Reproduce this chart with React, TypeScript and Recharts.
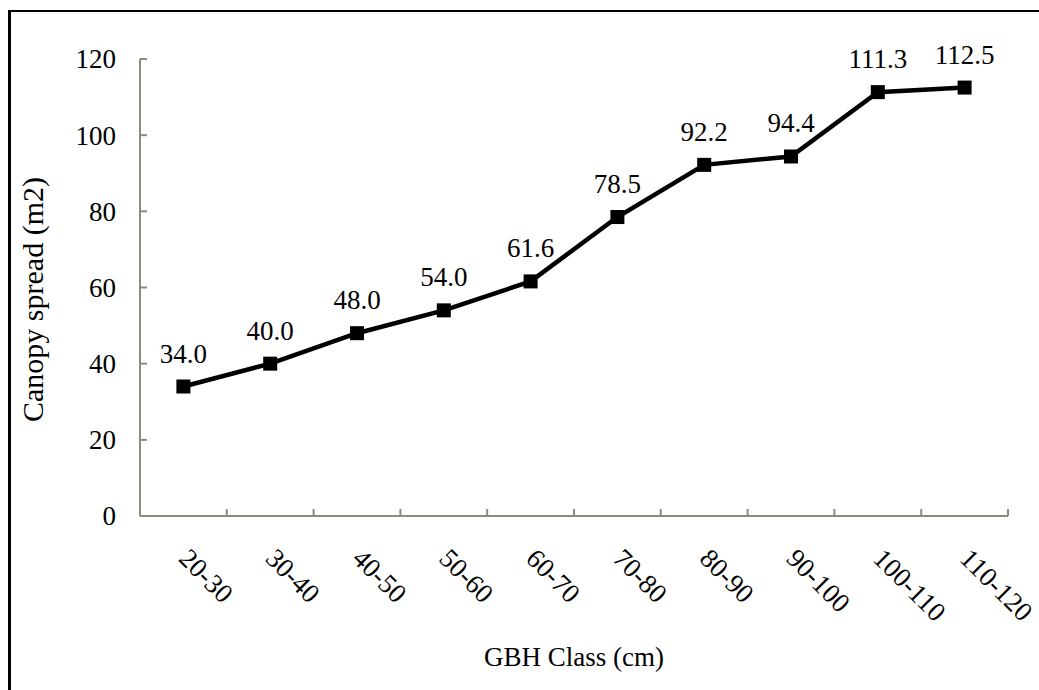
import { LineChart, Line, XAxis, YAxis, LabelList } from 'recharts';

const gbhClasses = ['20-30', '30-40', '40-50', '50-60', '60-70', '70-80', '80-90', '90-100', '100-110', '110-120'];
const canopySpread = [34.0, 40.0, 48.0, 54.0, 61.6, 78.5, 92.2, 94.4, 111.3, 112.5];
const yTicks = [0, 20, 40, 60, 80, 100, 120];
const boundaryTicks = [0, 1, 2, 3, 4, 5, 6, 7, 8, 9, 10];

const FONT = "'Liberation Serif', 'Times New Roman', Times, serif";
const AXIS = '#878f7b';
const txt = { fontFamily: FONT, fontSize: 27 };

// each class sits in the middle of its band on a 0..10 number axis
const data = gbhClasses.map((g, i) => ({ gbh: g, pos: i + 0.5, spread: canopySpread[i] }));
const xTicks = [...boundaryTicks, ...data.map(d => d.pos)].sort((a, b) => a - b);

// boundary values get a short inward tick mark, band centres get the rotated class label
const XTick = (props: any) => {
    const { x, y, payload } = props;
    const v = payload.value;
    if (Number.isInteger(v)) {
        return <line x1={x} x2={x} y1={y} y2={y - 7} stroke={AXIS} strokeWidth={2} />;
    }
    const ax = x - 6;
    const ay = y + 44;
    return (
        <text x={ax} y={ay} transform={`rotate(45, ${ax}, ${ay})`} textAnchor="start" style={txt} fill="#000">
            {gbhClasses[Math.floor(v)]}
        </text>
    );
};

const YTick = (props: any) => {
    const { x, y, payload } = props;
    return (
        <text x={x} y={y} dy="0.35em" textAnchor="end" style={txt} fill="#000">
            {payload.value}
        </text>
    );
};

const PointLabel = (props: any) => {
    const { x, y, value } = props;
    return (
        <text x={x} y={y - 24} textAnchor="middle" style={txt} fill="#000">
            {Number(value).toFixed(1)}
        </text>
    );
};

const SquareDot = (props: any) => {
    const { cx, cy, index } = props;
    return <rect key={index} x={cx - 7} y={cy - 7} width={14} height={14} fill="#000" />;
};

export default function App() {
    return (
        <div style={{ position: 'absolute', left: 0, top: 0, width: 1039, height: 690, background: '#fff', fontFamily: FONT }}>
            <div style={{ position: 'absolute', left: 8, top: 10, width: 1100, height: 800, borderLeft: '3px solid #000', borderTop: '2px solid #000' }} />
            <LineChart width={1039} height={690} data={data} margin={{ top: 59, right: 31, left: 0, bottom: 0 }}>
                <XAxis
                    dataKey="pos"
                    type="number"
                    domain={[0, 10]}
                    allowDataOverflow
                    ticks={xTicks}
                    interval={0}
                    height={174}
                    tickLine={false}
                    tickSize={0}
                    tickMargin={0}
                    axisLine={{ stroke: AXIS, strokeWidth: 2 }}
                    tick={<XTick />}
                    label={(p: any) => {
                        const vb = p.viewBox;
                        return (
                            <text x={vb.x + vb.width / 2} y={vb.y + 150} textAnchor="middle" style={txt} fill="#000">
                                GBH Class (cm)
                            </text>
                        );
                    }}
                />
                <YAxis
                    width={140}
                    domain={[0, 120]}
                    ticks={yTicks}
                    tickSize={-7}
                    tickMargin={31}
                    axisLine={{ stroke: AXIS, strokeWidth: 2 }}
                    tickLine={{ stroke: AXIS, strokeWidth: 2 }}
                    tick={<YTick />}
                    label={(p: any) => {
                        const vb = p.viewBox;
                        const lx = vb.x + 43;
                        const ly = vb.y + vb.height / 2 + 12;
                        return (
                            <text x={lx} y={ly} transform={`rotate(-90, ${lx}, ${ly})`} textAnchor="middle"
                                style={{ fontFamily: FONT, fontSize: 30 }} fill="#000">Canopy spread (m2)</text>
                        );
                    }}
                />
                <Line
                    dataKey="spread"
                    stroke="#000"
                    strokeWidth={4.5}
                    dot={<SquareDot />}
                    activeDot={false}
                    isAnimationActive={false}
                >
                    <LabelList dataKey="spread" content={<PointLabel />} />
                </Line>
            </LineChart>
        </div>
    );
}
